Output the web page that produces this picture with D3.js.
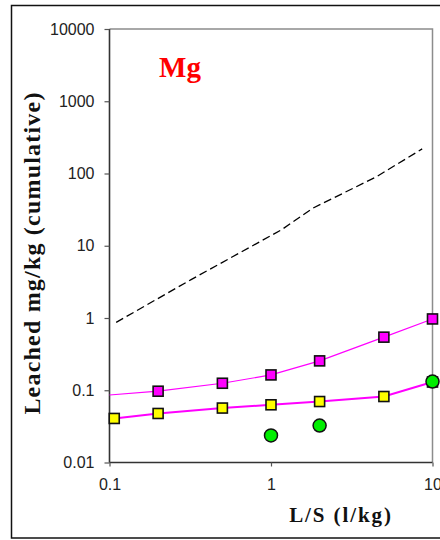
<!DOCTYPE html>
<html><head><meta charset="utf-8">
<script src="https://cdn.jsdelivr.net/npm/d3@7"></script>
<style>html,body{margin:0;padding:0;background:#fff;overflow:hidden}svg{display:block}</style>
</head><body><svg id="c" width="440" height="540"></svg>
<script>
// ---- data ----
const xTickValues = [0.1, 1, 10];
const xTickLabels = ["0.1", "1", "10"];
const yTickValues = [0.01, 0.1, 1, 10, 100, 1000, 10000];
const yTickLabels = ["0.01", "0.1", "1", "10", "100", "1000", "10000"];

const dashedX = [0.11, 0.32, 1.16, 1.81, 4.49, 8.63];
const dashedY = [0.87, 3.4, 16.6, 33, 90, 219];

const magentaX = [0.1, 0.2, 0.5, 1, 2, 5, 10];
const magentaY = [0.086, 0.097, 0.125, 0.163, 0.255, 0.543, 0.97];
const magentaMarkerFrom = 1; // first point is line-only

const yellowX = [0.107, 0.2, 0.5, 1, 2, 5, 10];
const yellowY = [0.0407, 0.0477, 0.0567, 0.0629, 0.0698, 0.0819, 0.13];

const greenX = [1, 2, 10];
const greenY = [0.0237, 0.0325, 0.132];

const title = "Mg";
const xTitle = "L/S (l/kg)";
const yTitle = "Leached mg/kg (cumulative)";

// ---- drawing ----
const svg = d3.select("#c");
const L = 109.5, R = 432.5, T = 29, B = 462.5;
const x = d3.scaleLog().domain([0.1, 10]).range([L, R]);
const y = d3.scaleLog().domain([0.01, 10000]).range([B, T]);

// outer frame
svg.append("rect").attr("x", 11.5).attr("y", 5.5).attr("width", 460).attr("height", 532.5)
  .attr("fill", "none").attr("stroke", "#111").attr("stroke-width", 1.5);

// plot border top/right (grey)
svg.append("path").attr("d", `M${L},${T}H${R}V${B}`).attr("fill", "none")
  .attr("stroke", "#8c8c8c").attr("stroke-width", 1.5);

// axes
const yAxis = d3.axisLeft(y).tickValues(yTickValues)
  .tickFormat((d, i) => yTickLabels[i]).tickSize(5).tickPadding(10);
const gy = svg.append("g").attr("transform", `translate(${L},0)`).call(yAxis);
const xAxis = d3.axisBottom(x).tickValues(xTickValues)
  .tickFormat((d, i) => xTickLabels[i]).tickSize(4).tickPadding(12);
const gx = svg.append("g").attr("transform", `translate(0,${B})`).call(xAxis);
[gx, gy].forEach(g => {
  g.select(".domain").attr("stroke", "#333").attr("stroke-width", 1.6);
  g.selectAll(".tick line").attr("stroke", "#555").attr("stroke-width", 1.2);
  g.selectAll("text").attr("font-family", "Liberation Sans, Arial, sans-serif")
    .attr("font-size", 16).attr("fill", "#222");
});
gx.select(".domain").attr("d", `M${L},0H${R}`);
gy.select(".domain").attr("d", `M0,${B}V${T}`);

const line = d3.line().x(d => x(d[0])).y(d => y(d[1]));
const zip = (a, b) => a.map((v, i) => [v, b[i]]);

// dashed line
svg.append("path").datum(zip(dashedX, dashedY)).attr("d", line)
  .attr("fill", "none").attr("stroke", "#000").attr("stroke-width", 1.3)
  .attr("stroke-dasharray", "8,4");

// magenta series
svg.append("path").datum(zip(magentaX, magentaY)).attr("d", line)
  .attr("fill", "none").attr("stroke", "#ff00ff").attr("stroke-width", 1.2);
// yellow series line
svg.append("path").datum(zip(yellowX, yellowY)).attr("d", line)
  .attr("fill", "none").attr("stroke", "#ff00ff").attr("stroke-width", 2);

const sq = 10;
svg.append("g").selectAll("rect").data(zip(magentaX, magentaY).slice(magentaMarkerFrom)).join("rect")
  .attr("x", d => x(d[0]) - sq / 2).attr("y", d => y(d[1]) - sq / 2)
  .attr("width", sq).attr("height", sq)
  .attr("fill", "#ff00ff").attr("stroke", "#111").attr("stroke-width", 1.6);
svg.append("g").selectAll("rect").data(zip(yellowX, yellowY)).join("rect")
  .attr("x", d => x(d[0]) - sq / 2).attr("y", d => y(d[1]) - sq / 2)
  .attr("width", sq).attr("height", sq)
  .attr("fill", "#ffff00").attr("stroke", "#111").attr("stroke-width", 1.6);
svg.append("g").selectAll("circle").data(zip(greenX, greenY)).join("circle")
  .attr("cx", d => x(d[0])).attr("cy", d => y(d[1])).attr("r", 6.5)
  .attr("fill", "#00ee00").attr("stroke", "#111").attr("stroke-width", 1.5);

// title
svg.append("text").attr("x", 180).attr("y", 77).attr("text-anchor", "middle")
  .attr("font-family", "Liberation Serif, Times New Roman, serif").attr("font-weight", "bold")
  .attr("font-size", 29).attr("fill", "#ff0000").text(title);

// axis titles
svg.append("text").attr("x", 341).attr("y", 521.5).attr("text-anchor", "middle")
  .attr("font-family", "Liberation Serif, Times New Roman, serif").attr("font-weight", "bold")
  .attr("font-size", 21).attr("letter-spacing", 1.9).attr("fill", "#111").text(xTitle);
svg.append("text").attr("transform", "translate(39.5,253) rotate(-90)").attr("text-anchor", "middle")
  .attr("font-family", "Liberation Serif, Times New Roman, serif").attr("font-weight", "bold")
  .attr("font-size", 24).attr("letter-spacing", 1.2).attr("fill", "#111").text(yTitle);
</script></body></html>
